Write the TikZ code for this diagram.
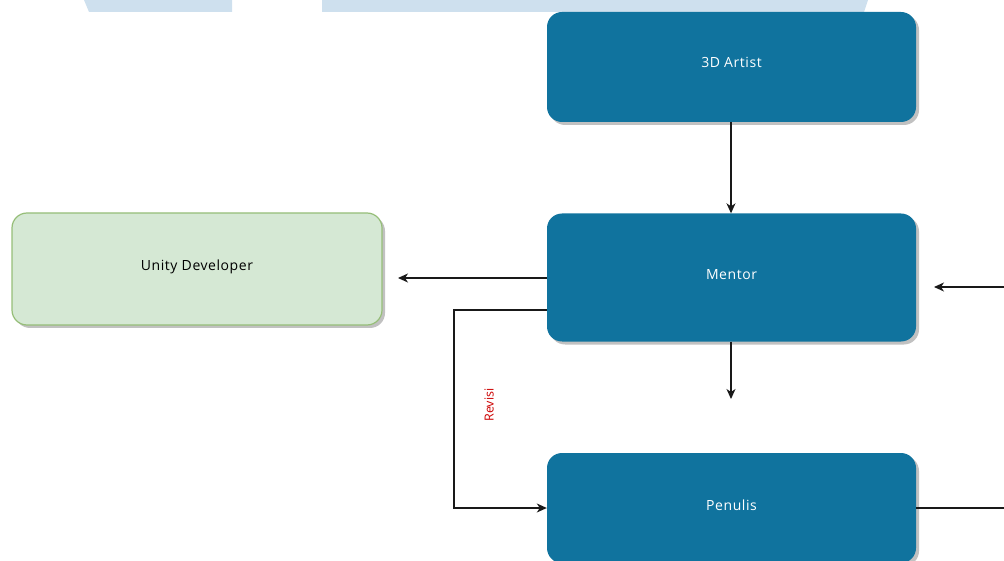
\documentclass[tikz,border=0pt]{standalone}
\usepackage{fontspec}
\setmainfont{Open Sans}
\usetikzlibrary{arrows.meta}
\definecolor{boxblue}{RGB}{16,115,158}
\definecolor{greenfill}{RGB}{213,232,212}
\definecolor{greenline}{RGB}{150,190,120}
\definecolor{banner}{RGB}{206,224,238}
\definecolor{revred}{RGB}{204,0,0}
\tikzset{
  boxbase/.style={rectangle, rounded corners=15pt, minimum width=369pt, inner sep=0pt,
    font=\fontsize{14}{16}\selectfont\addfontfeatures{LetterSpace=4}, text=white, fill=boxblue, draw=none,
    preaction={fill=black!30, opacity=0.8, transform canvas={xshift=3pt,yshift=-3pt}}},
  greenbox/.style={boxbase, fill=greenfill, draw=greenline, line width=1.2pt, text=black},
  arr/.style={draw=black!90, line width=1.2pt, -{Stealth[length=10pt,width=9pt,inset=3pt]}},
  plain/.style={draw=black!90, line width=1.2pt},
  revlabel/.style={font=\fontsize{12.5}{14}\selectfont, text=revred, rotate=90}
}
\begin{document}
\begin{tikzpicture}[x=1pt,y=-1pt]
\useasboundingbox (0,0) rectangle (1004,561);
% banner fragments
\fill[banner] (84,0) -- (89,12) -- (232,12) -- (232,0) -- cycle;
\fill[banner] (322,0) -- (322,12) -- (864,12) -- (868,0) -- cycle;
% boxes
\node[boxbase, minimum height=110pt] (artist) at (731.5,67) {\raisebox{10pt}{3D Artist}};
\node[boxbase, minimum height=128pt] (mentor) at (731.5,277.5) {\raisebox{6pt}{Mentor}};
\node[boxbase, minimum height=110pt] (penulis) at (731.5,508) {\raisebox{6pt}{Penulis}};
\node[greenbox, minimum width=370pt, minimum height=112pt] (unity) at (197,269) {\raisebox{8pt}{Unity Developer}};
% free ends
\coordinate (uend) at (398,278);
\coordinate (rv1) at (454,310);
\coordinate (mend) at (731,399);
\coordinate (rin) at (1004,287);
\coordinate (rinend) at (934,287);
\coordinate (rout) at (1004,508);
% connectors
\draw[arr] (artist.south -| 731,0) -- (mentor.north -| 731,0);
\draw[arr] (mentor.west |- uend) -- (uend);
\draw[arr] (mentor.west |- rv1) -- (rv1) -- (rv1 |- penulis.west) -- (penulis.west);
\node[revlabel] (rev) at (489,405) {Revisi};
\draw[arr] (mentor.south -| mend) -- (mend);
\draw[arr] (rin) -- (rinend);
\draw[plain] (penulis.east) -- (rout);
\end{tikzpicture}
\end{document}
